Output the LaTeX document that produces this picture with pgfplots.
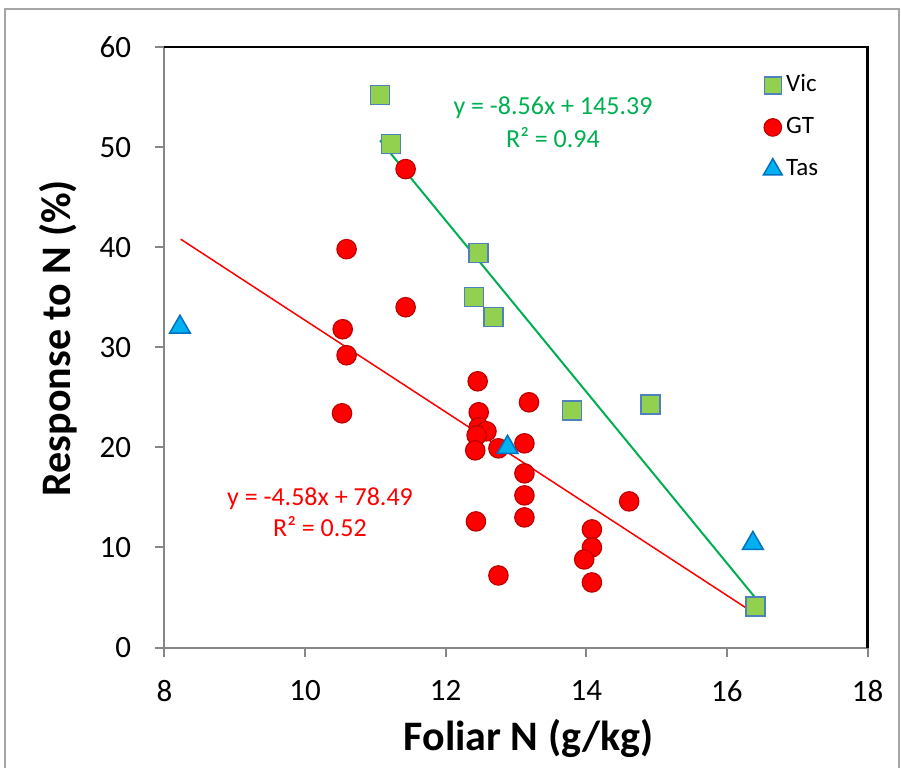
\documentclass[border=0pt]{standalone}
\usepackage{fontspec}
\setmainfont{Carlito}
\usepackage{pgfplots}
\pgfplotsset{compat=1.18}

\definecolor{axgray}{HTML}{868686}
\definecolor{framegray}{HTML}{A6A6A6}
\definecolor{vicfill}{HTML}{92D050}
\definecolor{vicedge}{HTML}{4F81BD}
\definecolor{gtfill}{HTML}{FF0000}
\definecolor{gtedge}{HTML}{C00000}
\definecolor{tasfill}{HTML}{00B0F0}
\definecolor{tasedge}{HTML}{0070C0}
\definecolor{fitgreen}{HTML}{00B050}
\definecolor{fitred}{HTML}{FF0000}

\begin{document}
\begin{tikzpicture}
\path[use as bounding box] (-82.25pt,-59.75pt) rectangle (368.25pt,323.75pt);
\draw[framegray, line width=1pt] (-79.75pt,-65pt) -- (-79.75pt,319.25pt) -- (367.25pt,319.25pt) -- (367.25pt,-65pt);
\begin{axis}[
  scale only axis, width=351.5pt, height=300.25pt,
  xmin=8, xmax=18, ymin=0, ymax=60,
  xtick={8,10,...,18}, ytick={0,10,...,60},
  tick align=outside, xtick pos=bottom, ytick pos=left,
  major tick length=4.5pt,
  every tick/.style={draw=axgray, line width=1pt},
  axis line style={draw=axgray, line width=1pt},
  /pgf/number format/assume math mode=true,
  tick label style={font=\fontsize{15.5}{18}\selectfont, inner sep=0pt},
  xticklabel style={anchor=north, yshift=-11.75pt},
  yticklabel style={anchor=east, xshift=-12pt},
  xlabel={Foliar N (g/kg)}, ylabel={Response to N (\%)},
  every axis x label/.style={at={(axis description cs:0.518,-0.1707)}, anchor=base,
    font=\fontsize{21}{24}\selectfont\bfseries},
  every axis y label/.style={at={(axis description cs:-0.1344,0.515)}, anchor=base, rotate=90,
    font=\fontsize{21}{24}\selectfont\bfseries},
  clip=false,
  legend style={at={(axis description cs:0.852,0.956)}, anchor=north west,
    draw=none, fill=none, inner sep=0pt, outer sep=0pt,
    font=\fontsize{12.5}{14}\selectfont, row sep=9pt, column sep=2pt,
    nodes={inner sep=0pt, text height=9pt, text depth=3pt}},
  legend cell align=left,
  legend image code/.code={\draw[#1, every mark/.append style={scale=0.9}] plot coordinates {(0pt,0pt)};},
]
\addplot[only marks, mark=square*, mark size=4.75pt,
  mark options={fill=vicfill, draw=vicedge, line width=0.75pt}] coordinates {
  (11.065,55.2) (11.22,50.3) (12.47,39.4) (12.40,35.0) (12.68,33.0)
  (13.80,23.7) (14.91,24.3) (16.41,4.1)
};
\addlegendentry{Vic}
\addplot[only marks, mark=*, mark size=4.85pt,
  mark options={fill=gtfill, draw=gtedge, line width=0.6pt}] coordinates {
  (11.43,47.8) (10.59,39.8) (11.43,34.0) (10.535,31.8) (10.59,29.2) (10.525,23.4)
  (12.455,26.6) (13.185,24.5) (12.47,23.5) (12.47,22.0) (12.58,21.6) (12.44,21.2)
  (12.42,19.7) (12.75,19.9) (13.12,20.4) (13.12,17.4) (13.12,15.2) (13.12,13.0)
  (12.43,12.6) (12.75,7.2) (14.61,14.6) (14.08,11.8) (14.08,10.0) (13.97,8.8)
  (14.08,6.5)
};
\addlegendentry{GT}
\addplot[only marks, mark=triangle*, mark size=6pt,
  mark options={fill=tasfill, draw=tasedge, line width=0.75pt}] coordinates {
  (8.22,32.0) (12.88,20.0) (16.37,10.4)
};
\addlegendentry{Tas}
\addplot[fitgreen, line width=1pt, forget plot] coordinates {(11.065,50.67) (16.41,4.92)};
\addplot[fitred, line width=0.75pt, forget plot] coordinates {(8.23,40.80) (16.375,3.49)};
\draw[black, line width=0.9pt] (rel axis cs:0,1) -- (rel axis cs:1,1);
\draw[black, line width=1.2pt] (rel axis cs:1,1.0015) -- (rel axis cs:1,0);
\node[fitgreen, anchor=base, font=\fontsize{13}{15}\selectfont] at (axis cs:13.526,53.21) {y = -8.56x + 145.39};
\node[fitgreen, anchor=base, font=\fontsize{13}{15}\selectfont] at (axis cs:13.526,49.98) {R² = 0.94};
\node[fitred, anchor=base, font=\fontsize{13}{15}\selectfont] at (axis cs:10.212,14.14) {y = -4.58x + 78.49};
\node[fitred, anchor=base, font=\fontsize{13}{15}\selectfont] at (axis cs:10.212,11.07) {R² = 0.52};
\end{axis}
\end{tikzpicture}
\end{document}
